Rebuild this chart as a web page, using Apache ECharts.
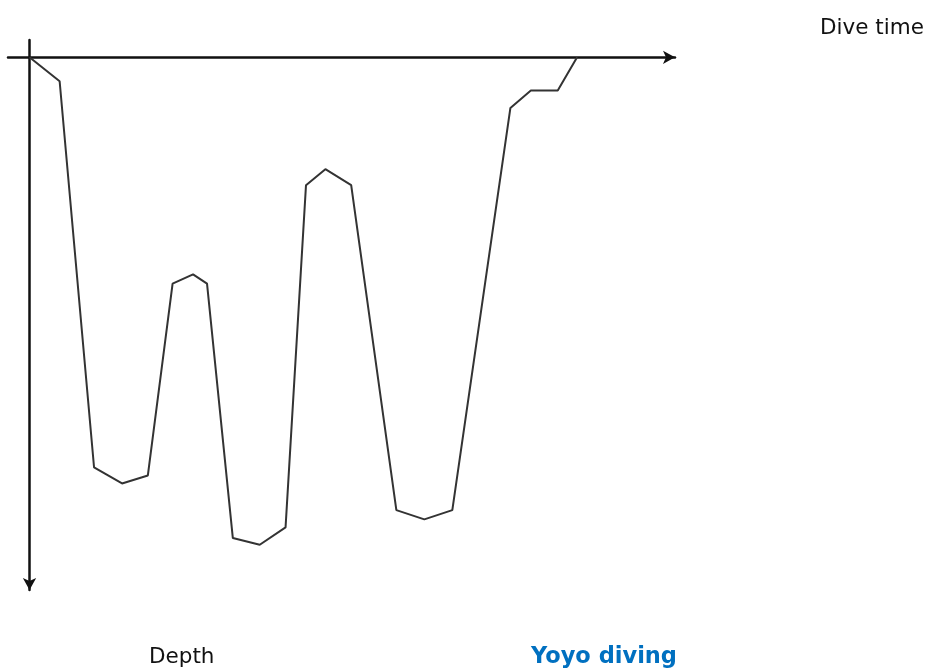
<!DOCTYPE html>
<html>
<head>
<meta charset="utf-8">
<script src="https://cdn.jsdelivr.net/npm/echarts@6/dist/echarts.min.js"></script>
<style>
  html, body { margin: 0; padding: 0; background: #fff; }
  #chart { width: 925px; height: 669px; }
</style>
</head>
<body>
<div id="chart"></div>
<script>
  // dive profile: time (min) vs depth (m)
  const diveTime = [0, 2.8, 6.0, 8.6, 11.0, 13.3, 15.2, 16.5, 18.9, 21.4, 23.8, 25.7, 27.5, 29.9, 34.1, 36.7, 39.3, 44.7, 46.6, 49.1, 50.9];
  const depth = [0, 1.8, 30.8, 32.0, 31.4, 17.0, 16.3, 17.0, 36.1, 36.6, 35.3, 9.6, 8.4, 9.6, 34.0, 34.7, 34.0, 3.8, 2.5, 2.5, 0];

  const points = diveTime.map((t, i) => [t, depth[i]]);

  const myChart = echarts.init(document.getElementById("chart"));
  const font = "DejaVu Sans";
  const option = {
    animation: false,
    title: [
      { text: "Dive time", left: 815, top: 12, textStyle: { fontFamily: font, fontSize: 21.5, fontWeight: "normal", color: "#111" } },
      { text: "Depth", left: 144, top: 641, textStyle: { fontFamily: font, fontSize: 21.5, fontWeight: "normal", color: "#111" } },
      { text: "Yoyo diving", left: 526, top: 641, textStyle: { fontFamily: font, fontSize: 22.5, fontWeight: "bold", color: "#0070c0" } },
    ],
    grid: { left: 8, right: 250, top: 40, bottom: 79 },
    xAxis: {
      type: "value",
      min: -2,
      max: 60,
      axisLine: { onZero: true, symbol: ["none", "arrow"], symbolSize: [10, 12], lineStyle: { color: "#111", width: 2.5 } },
      axisTick: { show: false },
      axisLabel: { show: false },
      splitLine: { show: false },
    },
    yAxis: {
      type: "value",
      inverse: true,
      min: -1.3,
      max: 40,
      axisLine: { onZero: true, symbol: ["arrow", "none"], symbolSize: [10, 12], lineStyle: { color: "#111", width: 2.5 } },
      axisTick: { show: false },
      axisLabel: { show: false },
      splitLine: { show: false },
    },
    series: [
      {
        type: "line",
        data: points,
        showSymbol: false,
        lineStyle: { color: "#333", width: 2 },
      },
    ],
  };
  myChart.setOption(option);
</script>
</body>
</html>
